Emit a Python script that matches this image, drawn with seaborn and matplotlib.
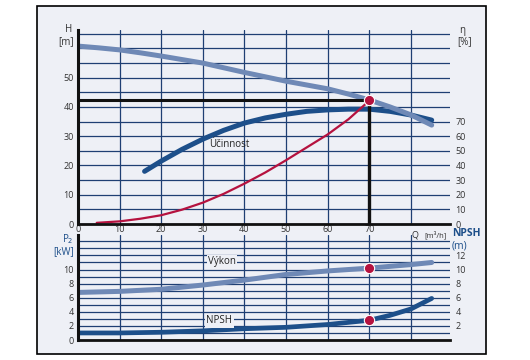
import numpy as np
import pandas as pd
import matplotlib.pyplot as plt
from matplotlib.patches import Rectangle
import seaborn as sns

# Curve data
q_head = [0, 5, 10, 15, 20, 25, 30, 35, 40, 45, 50, 55, 60, 65, 70, 75, 80, 85]
head = [60.8, 60.2, 59.5, 58.5, 57.4, 56.2, 55.0, 53.4, 51.8, 50.3, 48.8, 47.5, 46.2, 44.4, 42.4, 40.0, 37.3, 33.8]

# efficiency in %, right-hand eta scale (10 % per 5 m of head)
q_eff = [16, 20, 25, 30, 35, 40, 45, 50, 55, 60, 65, 70, 75, 80, 85]
eff = [36, 43, 51, 58, 64, 69, 72.5, 75, 77, 78, 78.5, 78.5, 77, 74.5, 71]

q_sys = [4.5, 10, 15, 20, 25, 30, 35, 40, 45, 50, 55, 60, 65, 69.5]
sys_h = [0.4, 0.9, 1.8, 3.0, 4.9, 7.3, 10.3, 13.8, 17.6, 21.8, 26.2, 30.6, 35.8, 41.5]

q_pow = [0, 10, 20, 30, 40, 50, 60, 70, 80, 85]
power = [6.75, 6.9, 7.2, 7.8, 8.5, 9.3, 9.8, 10.2, 10.7, 11.0]

q_npsh = [0, 10, 20, 30, 40, 50, 60, 70, 75, 80, 85]
npsh = [1.0, 1.0, 1.1, 1.3, 1.6, 1.8, 2.2, 2.8, 3.5, 4.4, 5.9]

# operating point
op_q = 70
op_h = 42.3
op_p = 10.2
op_npsh = 2.8

q_ticks = [0, 10, 20, 30, 40, 50, 60, 70]
eta_per_m = 2.0  # eta axis scale vs head axis

sns.set_theme(style='white')
plt.rcParams['font.family'] = ['Open Sans', 'DejaVu Sans']

bg = '#eef0f6'
grid_c = '#1f3f73'
light = '#6f89b6'
dark = '#1d4f8a'
red = '#b5123f'
txt = '#333333'

fig = plt.figure(figsize=(5.3, 3.6), dpi=100)
fig.patch.set_facecolor('white')
fig.patches.append(Rectangle((37 / 530, 1 - 354 / 360), 449 / 530, 348 / 360,
                             transform=fig.transFigure, facecolor=bg,
                             edgecolor='black', lw=1.2, zorder=-1))

ax_h = fig.add_axes([78 / 530, 1 - 224 / 360, 372 / 530, 194 / 360])
ax_p = fig.add_axes([78 / 530, 1 - 340 / 360, 372 / 530, 105 / 360])

for ax in (ax_h, ax_p):
    ax.set_facecolor('none')
    ax.set_xlim(0, 89.4)
    ax.set_xticks(range(0, 90, 10))
    ax.grid(True, color=grid_c, lw=0.9)
    ax.set_axisbelow(True)
    for s in ('top', 'right'):
        ax.spines[s].set_visible(False)
    ax.spines['left'].set_color('#111111')
    ax.spines['left'].set_linewidth(2.2)
    ax.spines['bottom'].set_color('#111111')
    ax.spines['bottom'].set_linewidth(2.0)
    ax.tick_params(length=0, labelsize=6.5, colors=txt, pad=3)

# ---- top panel: head / efficiency
h_max = 66.3
ax_h.set_ylim(0, h_max)
ax_h.set_yticks(range(0, 70, 5))
ax_h.set_yticklabels([str(v) if v % 10 == 0 and v <= 50 else '' for v in range(0, 70, 5)])
ax_h.set_xticklabels([str(v) for v in q_ticks] + [''])
ax_h.tick_params(axis='x', pad=1)

ax_eta = ax_h.twinx()
ax_eta.set_ylim(0, h_max * eta_per_m)
ax_eta.set_yticks(range(0, 80, 10))
ax_eta.tick_params(length=0, labelsize=6.5, colors=txt, pad=4)
for s in ax_eta.spines.values():
    s.set_visible(False)
ax_eta.grid(False)

# efficiency drawn first so the head curve sits on top of it
sns.lineplot(x=q_eff, y=[e / eta_per_m for e in eff], ax=ax_h, color=dark, lw=3.6, solid_capstyle='round')
sns.lineplot(x=q_head, y=head, ax=ax_h, color=light, lw=3.6, solid_capstyle='round')
sns.lineplot(x=q_sys, y=sys_h, ax=ax_h, color=red, lw=1.6)
ax_h.plot([0, op_q], [op_h, op_h], color='#111111', lw=2.2, zorder=4)
ax_h.plot([op_q, op_q], [0, op_h], color='#111111', lw=2.4, zorder=4)
ax_h.scatter([op_q], [op_h], s=55, color=red, edgecolor='white', lw=0.8, zorder=6)
ax_h.set_xlabel('')
ax_h.set_ylabel('')
ax_h.text(36.3, 27, 'Účinnost', fontsize=7, color='#222222', ha='center', va='center')
ax_h.text(81, -2.2, 'Q', fontsize=6.5, color=txt, ha='center', va='top')
ax_h.text(83.2, -2.2, '[m³/h]', fontsize=5.5, color=txt, ha='left', va='top')

# ---- bottom panel: power / NPSH
ax_p.set_ylim(0, 14.9)
ax_p.set_yticks(range(0, 15))
ax_p.set_yticklabels([str(v) if v % 2 == 0 and v <= 10 else '' for v in range(0, 15)])
ax_p.set_xticklabels([])

sns.lineplot(x=q_pow, y=power, ax=ax_p, color=light, lw=3.6, solid_capstyle='round')
sns.lineplot(x=q_npsh, y=npsh, ax=ax_p, color=dark, lw=3.4, solid_capstyle='round')
ax_p.scatter([op_q, op_q], [op_p, op_npsh], s=55, color=red, edgecolor='white', lw=0.8, zorder=6)
ax_p.set_xlabel('')
ax_p.set_ylabel('')
lbl_box = dict(facecolor=bg, edgecolor='none', pad=1.0)
ax_p.text(34.6, 11.1, 'Výkon', fontsize=7, color='#222222', ha='center', va='center', bbox=lbl_box)
ax_p.text(34.0, 2.7, 'NPSH', fontsize=7, color='#222222', ha='center', va='center', bbox=lbl_box)

ax_n = ax_p.twinx()
ax_n.set_ylim(0, 14.9)
ax_n.set_yticks(range(2, 14, 2))
ax_n.tick_params(length=0, labelsize=6.5, colors=txt, pad=4)
for s in ax_n.spines.values():
    s.set_visible(False)
ax_n.grid(False)

# axis titles
fig.text(69 / 530, 1 - 30 / 360, 'H', fontsize=7, color=txt, ha='center', va='center')
fig.text(66 / 530, 1 - 42 / 360, '[m]', fontsize=7, color=txt, ha='center', va='center')
fig.text(459 / 530, 1 - 30 / 360, 'η', fontsize=7, color=txt, ha='left', va='center')
fig.text(457 / 530, 1 - 42 / 360, '[%]', fontsize=7, color=txt, ha='left', va='center')
fig.text(68 / 530, 1 - 239 / 360, 'P$_2$', fontsize=7, color=dark, ha='center', va='center')
fig.text(64 / 530, 1 - 252 / 360, '[kW]', fontsize=7, color=dark, ha='center', va='center')
fig.text(452 / 530, 1 - 234 / 360, 'NPSH', fontsize=7.5, color=dark, fontweight='bold', ha='left', va='center')
fig.text(452 / 530, 1 - 246 / 360, '(m)', fontsize=7.5, color=dark, ha='left', va='center')

fig.savefig('out.png', dpi=100)
